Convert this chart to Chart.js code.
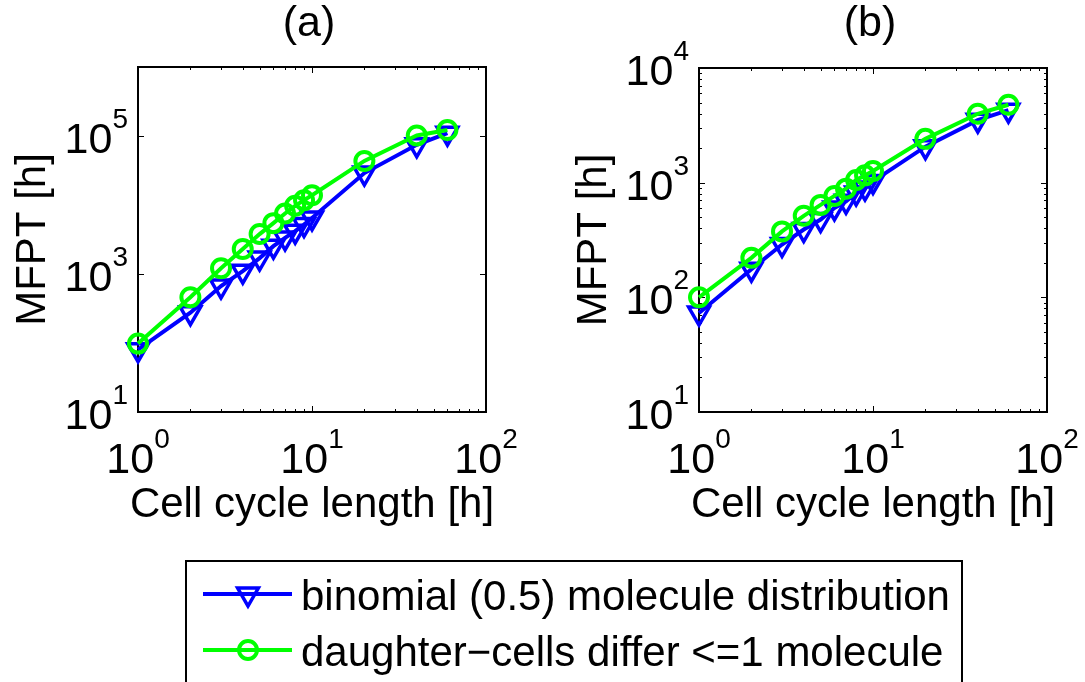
<!DOCTYPE html>
<html>
<head>
<meta charset="utf-8">
<script src="https://cdn.jsdelivr.net/npm/chart.js@4.4.1/dist/chart.umd.min.js"></script>
<style>
body { margin: 0; background: #fff; }
canvas { position: absolute; left: 0; top: 0; }
</style>
</head>
<body>
<canvas id="canvas-a" width="1085" height="682"></canvas>
<canvas id="canvas-b" width="1085" height="682"></canvas>
<script>
// values (log-log)
var cellCycle = [1, 2, 3, 4, 5, 6, 7, 8, 9, 10, 20, 40, 60];
var binomialA = [80, 275, 668, 1100, 1700, 2530, 3330, 4170, 5200, 6500, 29000, 74600, 110000];
var differA = [98, 460, 1210, 2300, 3790, 5460, 7530, 9730, 11750, 13870, 43500, 102000, 122000];
var binomialB = [73, 176, 289, 390, 477, 602, 688, 812, 898, 1026, 2062, 3510, 4290];
var differB = [100, 221, 376, 514, 640, 766, 887, 1055, 1158, 1262, 2410, 3990, 4780];
var xTickExp = [0, 1, 2];
var yTickExpA = [1, 3, 5];
var yTickExpB = [1, 2, 3, 4];
var seriesNames = ['binomial (0.5) molecule distribution', 'daughter\u2212cells differ <=1 molecule'];
var panelTitles = ['(a)', '(b)'];
var xLabel = 'Cell cycle length [h]';
var yLabel = 'MFPT [h]';

var FAMILY = '"Liberation Sans", Arial, Helvetica, sans-serif';
var BLUE = '#0000ff', GREEN = '#00ff00';

function pairs(xs, ys) { return xs.map(function (x, i) { return { x: x, y: ys[i] }; }); }

function minorValues(lo, hi) {
    var out = [];
    for (var e = lo; e < hi; e++) for (var m = 2; m <= 9; m++) out.push(m * Math.pow(10, e));
    return out;
}

function drawPow(ctx, exp, x, y, mode) {
    ctx.font = '43px ' + FAMILY; var w1 = ctx.measureText('10').width;
    ctx.font = '28px ' + FAMILY; var w2 = ctx.measureText(String(exp)).width;
    var left = mode === 'center' ? x - (w1 + w2) / 2 : x - w1 - w2;
    ctx.textAlign = 'left'; ctx.textBaseline = 'alphabetic';
    ctx.font = '43px ' + FAMILY; ctx.fillText('10', left, y);
    ctx.font = '28px ' + FAMILY; ctx.fillText(String(exp), left + w1, y - 25);
}

var panelAxes = {
    id: 'panelAxes',
    beforeDatasetsDraw: function (chart, args, opts) {
        var ctx = chart.ctx, a = chart.chartArea, xs = chart.scales.x, ys = chart.scales.y;
        ctx.save();
        ctx.strokeStyle = '#000';
        ctx.lineWidth = 1;
        ctx.beginPath();
        xTickExp.forEach(function (e) {
            var px = Math.round(xs.getPixelForValue(Math.pow(10, e))) + 0.5;
            ctx.moveTo(px, a.bottom); ctx.lineTo(px, a.bottom - 6);
            ctx.moveTo(px, a.top); ctx.lineTo(px, a.top + 6);
        });
        minorValues(0, 2).forEach(function (v) {
            var px = Math.round(xs.getPixelForValue(v)) + 0.5;
            ctx.moveTo(px, a.bottom); ctx.lineTo(px, a.bottom - 3);
            ctx.moveTo(px, a.top); ctx.lineTo(px, a.top + 3);
        });
        opts.yExp.forEach(function (e) {
            var py = Math.round(ys.getPixelForValue(Math.pow(10, e))) + 0.5;
            ctx.moveTo(a.left, py); ctx.lineTo(a.left + 6, py);
            ctx.moveTo(a.right, py); ctx.lineTo(a.right - 6, py);
        });
        if (opts.yMinor) {
            minorValues(1, 4).forEach(function (v) {
                var py = Math.round(ys.getPixelForValue(v)) + 0.5;
                ctx.moveTo(a.left, py); ctx.lineTo(a.left + 3, py);
                ctx.moveTo(a.right, py); ctx.lineTo(a.right - 3, py);
            });
        }
        ctx.stroke();
        ctx.lineWidth = 2;
        ctx.strokeRect(a.left, a.top, a.right - a.left, a.bottom - a.top);
        ctx.restore();
    },
    afterDraw: function (chart, args, opts) {
        var ctx = chart.ctx, a = chart.chartArea, xs = chart.scales.x, ys = chart.scales.y;
        var cx = (a.left + a.right) / 2, cy = (a.top + a.bottom) / 2;
        ctx.save();
        ctx.fillStyle = '#000';
        xTickExp.forEach(function (e) {
            drawPow(ctx, e, xs.getPixelForValue(Math.pow(10, e)), a.bottom + 61, 'center');
        });
        opts.yExp.forEach(function (e) {
            drawPow(ctx, e, a.left - 10, ys.getPixelForValue(Math.pow(10, e)) + 17, 'right');
        });
        ctx.font = '42px ' + FAMILY;
        ctx.textAlign = 'center'; ctx.textBaseline = 'alphabetic';
        ctx.fillText(xLabel, cx, a.bottom + 105);
        ctx.font = '43px ' + FAMILY;
        ctx.fillText(opts.title, cx - 3, 36);
        ctx.translate(a.left - 93, cy);
        ctx.rotate(-Math.PI / 2);
        ctx.font = '42px ' + FAMILY;
        ctx.fillText(yLabel, 0, 0);
        ctx.restore();
    }
};

var boxLegend = {
    id: 'boxLegend',
    afterDraw: function (chart, args, opts) {
        if (!opts.show) return;
        var ctx = chart.ctx;
        ctx.save();
        ctx.strokeStyle = '#000'; ctx.lineWidth = 2;
        ctx.strokeRect(186, 561, 776, 140);
        chart.data.datasets.slice().sort(function (p, q) { return p.legendIndex - q.legendIndex; }).forEach(function (ds, i) {
            var y = 594 + 56 * i;
            ctx.strokeStyle = ds.borderColor; ctx.lineWidth = 4;
            ctx.beginPath(); ctx.moveTo(203, y); ctx.lineTo(292, y); ctx.stroke();
            ctx.fillStyle = 'rgba(0,0,0,0)'; ctx.lineWidth = ds.pointBorderWidth;
            Chart.helpers.drawPoint(ctx, { pointStyle: ds.pointStyle, rotation: ds.pointRotation || 0,
                radius: ds.pointRadius, borderWidth: ds.pointBorderWidth }, 248, y);
            ctx.fillStyle = '#000';
            ctx.font = '42px ' + FAMILY;
            ctx.textAlign = 'left'; ctx.textBaseline = 'alphabetic';
            ctx.fillText(ds.label, 301, y + 16);
        });
        ctx.restore();
    }
};

function makePanel(id, blueData, greenData, yMax, yExp, yMinor, title, padding, legend) {
    return new Chart(document.getElementById(id).getContext('2d'), {
        type: 'line',
        data: {
            datasets: [
                { label: seriesNames[0], legendIndex: 0, data: pairs(cellCycle, blueData), borderColor: BLUE, borderWidth: 4,
                  pointStyle: 'triangle', pointRotation: 180, pointRadius: 12, pointBorderWidth: 3.5,
                  pointBackgroundColor: 'rgba(0,0,0,0)', pointBorderColor: BLUE, clip: false, order: 2 },
                { label: seriesNames[1], legendIndex: 1, data: pairs(cellCycle, greenData), borderColor: GREEN, borderWidth: 4,
                  pointStyle: 'circle', pointRadius: 9, pointBorderWidth: 4,
                  pointBackgroundColor: 'rgba(0,0,0,0)', pointBorderColor: GREEN, clip: false, order: 1 }
            ]
        },
        options: {
            responsive: false, animation: false, devicePixelRatio: 1,
            layout: { padding: padding },
            scales: {
                x: { type: 'logarithmic', min: 1, max: 100, display: false },
                y: { type: 'logarithmic', min: 10, max: yMax, display: false }
            },
            plugins: {
                legend: { display: false }, tooltip: { enabled: false },
                panelAxes: { yExp: yExp, yMinor: yMinor, title: title },
                boxLegend: { show: legend }
            }
        },
        plugins: [panelAxes, boxLegend]
    });
}

var chartA = makePanel('canvas-a', binomialA, differA, 1e6, yTickExpA, false, panelTitles[0],
    { left: 138, top: 67, right: 599, bottom: 270 }, true);
var chartB = makePanel('canvas-b', binomialB, differB, 1e4, yTickExpB, true, panelTitles[1],
    { left: 699, top: 68, right: 38, bottom: 270 }, false);
</script>
</body>
</html>
